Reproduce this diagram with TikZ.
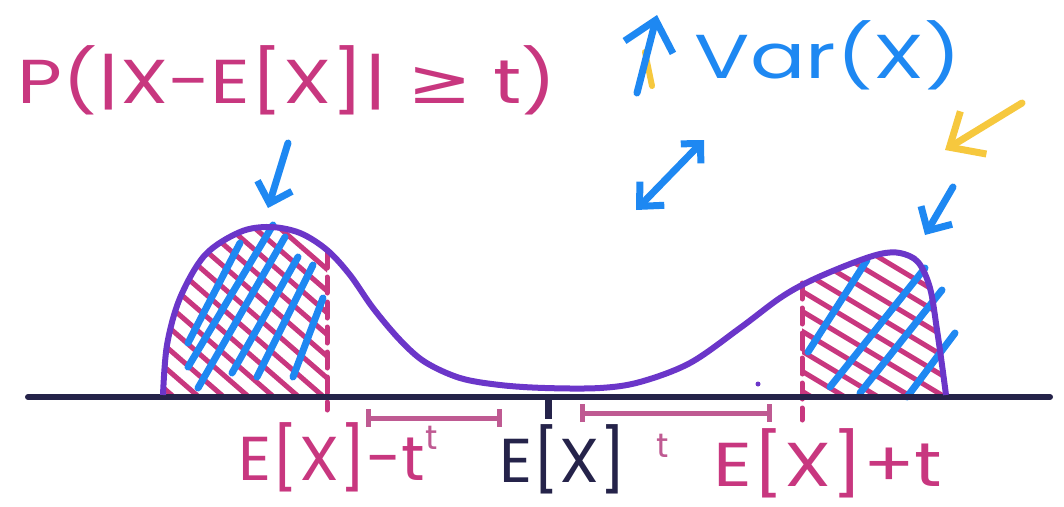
\documentclass[tikz,border=0pt]{standalone}
\usepackage{fontspec}
\setmainfont{Poppins}
\newfontfamily\symbfont{DejaVu Sans}
\usetikzlibrary{arrows.meta}

\definecolor{hotpink}{HTML}{C8377F}
\definecolor{mauve}{HTML}{BF5A92}
\definecolor{skyblue}{HTML}{1E88F2}
\definecolor{curvepurple}{HTML}{6B36C9}
\definecolor{inkblue}{HTML}{25234A}
\definecolor{marker}{HTML}{F6C83E}

\tikzset{
  label text/.style={font=\fontsize{62}{62}\selectfont, inner sep=0pt},
  small text/.style={font=\fontsize{34}{34}\selectfont, inner sep=0pt},
  hatch/.style={hotpink, line width=5pt, line cap=round},
  blue stroke/.style={skyblue, line width=7pt, line cap=round},
  barb/.style={-{Straight Barb[length=18pt,width=36pt]}},
  bigbarb/.style={-{Straight Barb[length=28pt,width=50pt]}},
  twobarb/.style={{Straight Barb[length=18pt,width=34pt]}-{Straight Barb[length=14pt,width=28pt]}},
}

\newcommand{\densitycurve}{plot[smooth, tension=0.55] coordinates {
  (163,395) (167,345) (180,298) (205,255) (240,232) (270,227) (300,233)
  (327,250) (350,275) (373,308) (400,340) (425,362) (460,378) (500,385)
  (545,388) (600,388) (640,382) (690,363) (740,328) (780,298) (810,281)
  (850,264) (880,254) (900,253) (918,262) (930,288) (937,330) (942,365)
  (946,395)}}

\begin{document}
\begin{tikzpicture}[x=1pt, y=-1pt, line join=round]
\useasboundingbox (0,0) rectangle (1064,506);

% Left tail
\begin{scope}
\clip (160,200) rectangle (327,397);
\clip \densitycurve -- cycle;
\foreach \s in {-260,-235,...,340}
  \draw[hatch] (\s,150) -- ++(400,348);
\end{scope}
\draw[hatch, dash pattern=on 16pt off 9pt] (327,252) -- (327,410);

% Right tail
\begin{scope}
\clip (802,200) rectangle (960,397);
\clip \densitycurve -- cycle;
\foreach \s in {90,110,...,410}
  \draw[hatch] (700,\s) -- ++(300,180);
\end{scope}
\draw[hatch, dash pattern=on 16pt off 9pt] (802,283) -- (802,420);

% Blue strokes
\draw[blue stroke] (188,343) -- (240,243);
\draw[blue stroke] (188,367) -- (273,225);
\draw[blue stroke] (198,388) -- (285,237);
\draw[blue stroke] (232,373) -- (298,257);
\draw[blue stroke] (257,377) -- (313,265);
\draw[blue stroke] (293,377) -- (323,298);

\draw[blue stroke] (808,352) -- (867,260);
\draw[blue stroke] (830,387) -- (925,268);
\draw[blue stroke] (860,393) -- (942,290);
\draw[blue stroke] (907,397) -- (955,333);

% Axis and density
\draw[inkblue, line width=6pt, line cap=round] (28,397) -- (1050,397);
\draw[curvepurple, line width=6pt] \densitycurve;
\fill[curvepurple] (758,384) circle (2.5pt);

\coordinate (mean) at (548,397);
\draw[inkblue, line width=7pt] (mean) -- ++(0,22);

% Distance t
\coordinate (lowstart) at (366,418);
\coordinate (lowend) at (502,418);
\coordinate (highstart) at (580,413);
\coordinate (highend) at (772,413);
\draw[mauve, line width=5pt, {Bar[width=18pt]}-{Bar[width=18pt]}] (lowstart) -- (lowend);
\draw[mauve, line width=5pt, {Bar[width=18pt]}-{Bar[width=18pt]}] (highstart) -- (highend);
\node[small text, mauve] (lowt) at (432,438) {t};
\node[small text, mauve] (hight) at (663,446) {t};

% Labels
\node[label text, hotpink] (lowlabel) at (332,457) {\scalebox{1.04}[1]{E[X]-t}};
\node[label text, inkblue] (meanlabel) at (563,459) {\scalebox{1.04}[1]{E[X]}};
\node[label text, hotpink] (highlabel) at (828,463) {\scalebox{1.22}[1]{E[X]+t}};
\node[label text, hotpink] (problabel) at (287,80) {\scalebox{1.25}[1]{P(|X-E[X]| {\symbfont ≥} t)}};
\node[label text, skyblue] (varlabel) at (828,55) {\scalebox{1.32}[1]{Var(X)}};

% Arrows
\coordinate (probfoot) at (288,143);
\coordinate (lefttop) at (268,208);
\draw[blue stroke, barb] (probfoot) -- (lefttop);

\coordinate (upfoot) at (637,93);
\coordinate (uptip) at (657,15);
\draw[marker, line width=6pt, line cap=round] (645,52) -- (652,86);
\draw[blue stroke, bigbarb] (upfoot) -- (uptip);

\coordinate (spreadlow) at (636,210);
\coordinate (spreadhigh) at (704,140);
\draw[blue stroke, twobarb] (spreadlow) -- (spreadhigh);

\coordinate (markertail) at (1022,103);
\coordinate (markertip) at (945,150);
\draw[marker, line width=7pt, line cap=round, bigbarb] (markertail) -- (markertip);

\coordinate (righttail) at (953,187);
\coordinate (righttop) at (925,235);
\draw[blue stroke, barb] (righttail) -- (righttop);

\end{tikzpicture}
\end{document}
